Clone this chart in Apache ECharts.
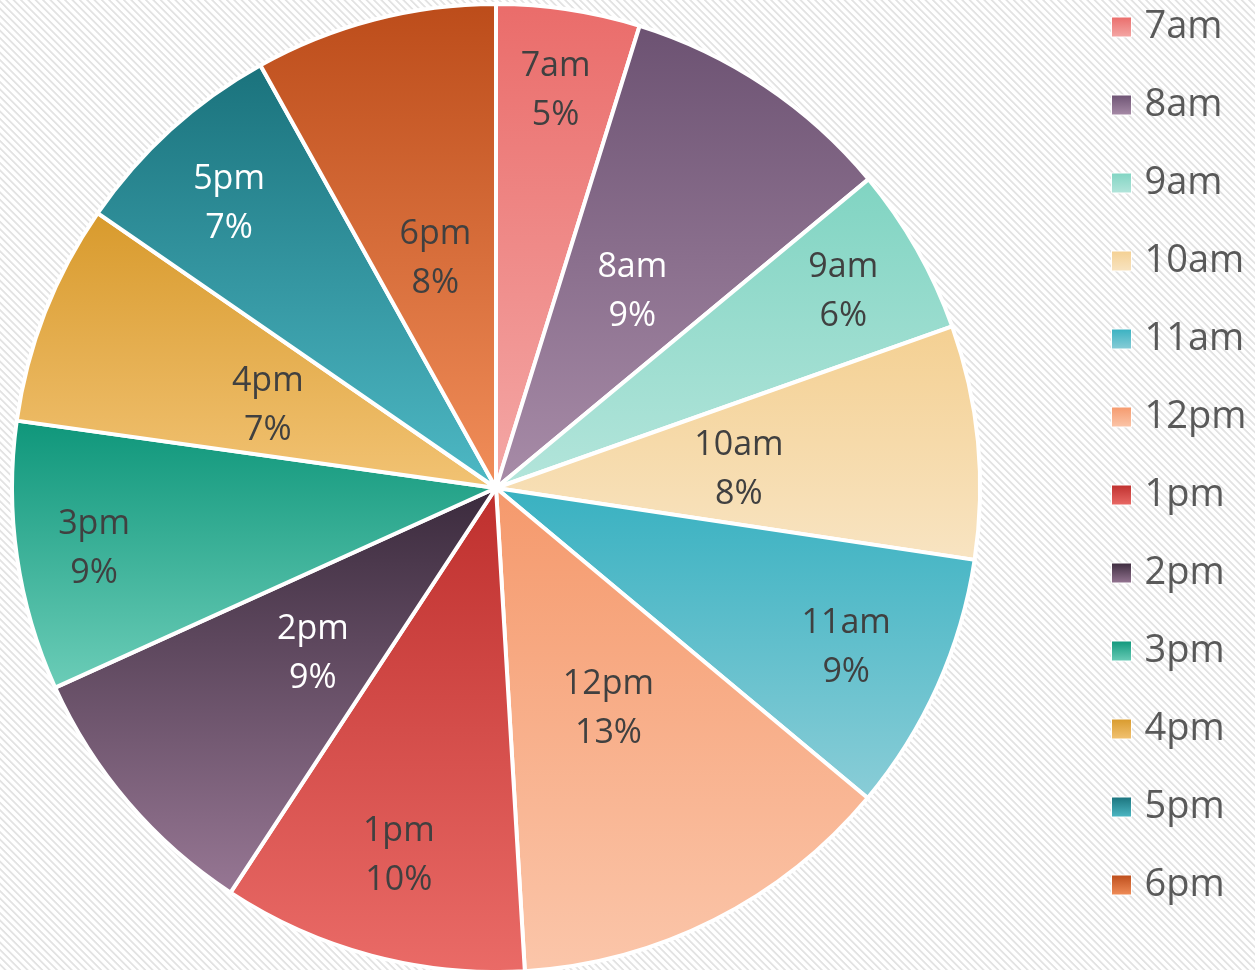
<!DOCTYPE html>
<html>
<head>
<meta charset="utf-8">
<script src="https://cdn.jsdelivr.net/npm/echarts@6/dist/echarts.min.js"></script>
<style>
  html, body { margin: 0; padding: 0; width: 1255px; height: 970px; overflow: hidden;
    background: repeating-linear-gradient(45deg, #ffffff 0px, #ffffff 2.6px, #e3e3e3 3.4px, #e3e3e3 4.4px, #ffffff 5.2px); }
  #chart { width: 1255px; height: 970px; }
</style>
</head>
<body>
<div id="chart"></div>
<script>
// ---- data ----
const categories = ['7am', '8am', '9am', '10am', '11am', '12pm', '1pm', '2pm', '3pm', '4pm', '5pm', '6pm'];
const values = [4.8, 9.2, 5.6, 7.8, 8.7, 13.0, 10.2, 9.0, 9.0, 7.4, 7.3, 8.1];

// ---- styles (kept apart from data) ----
const topColors = ['#ea6c6a', '#6c5272', '#80d4c2', '#f4d092', '#38b1c1', '#f5996c', '#be2f2d', '#3a2a3c', '#0e967a', '#d89a2c', '#1a727c', '#bc4c1a'];
const bottomColors = ['#f4a8a6', '#a88ca8', '#b4e5db', '#f8e4c2', '#8acdd7', '#fbc6aa', '#ea6b67', '#977794', '#6ccdb8', '#f2c374', '#4eb9c5', '#f18e5a'];
const whiteLabelNames = ['8am', '2pm', '5pm'];
// small label nudges [dx, dy] (px) imitating the original "best fit" placement
const labelNudge = [[0, -5], [0, 7], [2, 0], [-1, 5], [-12, -3], [2, 2], [5, -16], [3, 7], [-9, 4], [0, 7], [0, 10], [1, 8]];

function grad(i) {
  return new echarts.graphic.LinearGradient(0, 0, 0, 1, [
    { offset: 0, color: topColors[i] },
    { offset: 1, color: bottomColors[i] }
  ]);
}

function labelFor(i, show) {
  return {
    show: show,
    position: 'inside',
    formatter: '{b}\n{d}%',
    fontFamily: 'Open Sans',
    fontSize: 34,
    lineHeight: 49,
    color: whiteLabelNames.indexOf(categories[i]) >= 0 ? '#ffffff' : '#404040'
  };
}

function nudgeLayout(p) {
  return { dx: labelNudge[p.dataIndex][0], dy: labelNudge[p.dataIndex][1] };
}

const mainData = categories.map((c, i) => ({
  name: c,
  value: values[i],
  itemStyle: { color: grad(i) },
  label: labelFor(i, i % 2 === 1)
}));
const outerLabelData = categories.map((c, i) => ({
  name: c,
  value: values[i],
  label: labelFor(i, i % 2 === 0)
}));

const R = 484;
const chart = echarts.init(document.getElementById('chart'), null, { renderer: 'canvas' });
chart.setOption({
  backgroundColor: 'transparent',
  animation: false,
  legend: {
    orient: 'vertical',
    left: 1106,
    top: 1,
    data: categories,
    icon: 'rect',
    itemWidth: 20,
    itemHeight: 20,
    itemGap: 36,
    itemStyle: { borderWidth: 1, borderColor: '#ffffff' },
    textStyle: { fontFamily: 'Open Sans', fontSize: 38, color: '#595959', lineHeight: 42, padding: [0, 0, 0, 8] }
  },
  series: [
    {
      type: 'pie',
      center: [496, 488],
      radius: [0, R],
      startAngle: 90,
      clockwise: true,
      percentPrecision: 0,
      avoidLabelOverlap: false,
      labelLine: { show: false },
      labelLayout: nudgeLayout,
      itemStyle: { borderColor: '#ffffff', borderWidth: 4 },
      emphasis: { disabled: true },
      data: mainData
    },
    {
      type: 'pie',
      center: [496, 488],
      radius: [R - 180, R],
      startAngle: 90,
      clockwise: true,
      percentPrecision: 0,
      avoidLabelOverlap: false,
      silent: true,
      labelLine: { show: false },
      labelLayout: nudgeLayout,
      itemStyle: { color: 'rgba(0,0,0,0)', borderWidth: 0 },
      emphasis: { disabled: true },
      data: outerLabelData
    }
  ]
});
</script>
</body>
</html>
